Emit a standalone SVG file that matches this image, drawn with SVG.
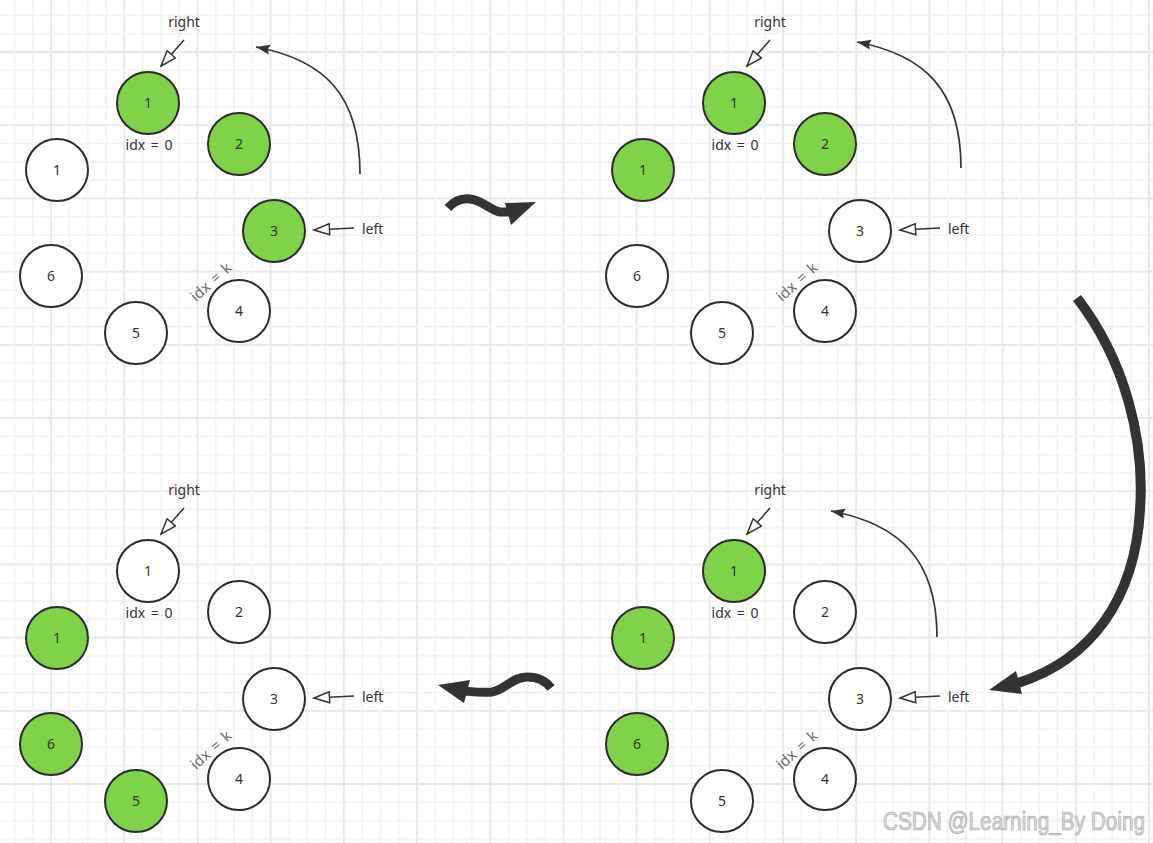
<svg xmlns="http://www.w3.org/2000/svg" width="1153" height="843" viewBox="0 0 1153 843">
<style>
.n{stroke:#2b2b2b;stroke-width:2}
.g{fill:#7ed348}
.w{fill:#ffffff}
.t{font-family:"Noto Sans","Open Sans","Liberation Sans",sans-serif;font-size:14px;fill:#333333}
.c{text-anchor:middle}
.k{fill:#6f6f6f;word-spacing:2px;font-size:15px}
.ptr{fill:none;stroke:#333333;stroke-width:1.5}
.cur{fill:none;stroke:#333333;stroke-width:1.7}
.thick{fill:none;stroke:#333333}
.head{fill:#333333}
</style>
<defs>
<pattern id="grid" patternUnits="userSpaceOnUse" x="50" y="51" width="73.2" height="73.2">
<rect width="73.2" height="73.2" fill="#ffffff"/>
<rect x="0" y="0" width="2" height="73.2" fill="#e9e9e9"/>
<rect x="0" y="0" width="73.2" height="2" fill="#e9e9e9"/>
<rect x="18.6" y="0" width="1.4" height="73.2" fill="#f1f1f1"/>
<rect x="36.9" y="0" width="1.4" height="73.2" fill="#f1f1f1"/>
<rect x="55.2" y="0" width="1.4" height="73.2" fill="#f1f1f1"/>
<rect x="0" y="18.6" width="73.2" height="1.4" fill="#f1f1f1"/>
<rect x="0" y="36.9" width="73.2" height="1.4" fill="#f1f1f1"/>
<rect x="0" y="55.2" width="73.2" height="1.4" fill="#f1f1f1"/>
</pattern>
<marker id="hollow" markerUnits="userSpaceOnUse" markerWidth="18" markerHeight="13" refX="16.5" refY="6.5" orient="auto">
<path d="M1,1 L16.5,6.5 L1,12 Z" fill="#ffffff" stroke="#333333" stroke-width="1.5"/>
</marker>
<marker id="solid" markerUnits="userSpaceOnUse" markerWidth="15" markerHeight="11" refX="14" refY="5.5" orient="auto">
<path d="M0,0.5 L14,5.5 L0,10.5 L2,5.5 Z" fill="#333333"/>
</marker>
</defs>
<rect width="1153" height="843" fill="url(#grid)"/>

<g id="connectors">
<path class="ptr" d="M184,40 L161,66" marker-end="url(#hollow)"/>
<path class="ptr" d="M354,228 L314,230" marker-end="url(#hollow)"/>
<path class="cur" d="M360,174 C360,95 325,60 256,47" marker-end="url(#solid)"/>
<path class="ptr" d="M770,40 L747,66" marker-end="url(#hollow)"/>
<path class="ptr" d="M940,228 L900,230" marker-end="url(#hollow)"/>
<path class="cur" d="M961,168 C961,90 925,55 857,42" marker-end="url(#solid)"/>
<path class="ptr" d="M184,508 L161,534" marker-end="url(#hollow)"/>
<path class="ptr" d="M354,696 L314,698" marker-end="url(#hollow)"/>
<path class="ptr" d="M770,508 L747,534" marker-end="url(#hollow)"/>
<path class="ptr" d="M940,696 L900,698" marker-end="url(#hollow)"/>
<path class="cur" d="M937,637 C937,560 900,524 831,511" marker-end="url(#solid)"/>
<path class="thick" stroke-width="9" d="M448,208 C455,200 462,198 470,199 C482,200 490,210 500,212 L512,212"/>
<polygon class="head" points="505,203 536,202 511,225"/>
<path class="thick" stroke-width="10" d="M1077,298 C1125,360 1145,440 1140,510 C1135,600 1090,660 1018,683"/>
<polygon class="head" points="989,690 1016,671 1022,694"/>
<path class="thick" stroke-width="9" d="M551,688 C545,680 537,677 527,677 C512,677 505,690 492,692 C482,693 475,692 465,691"/>
<polygon class="head" points="438,685 470,680 464,703"/>
</g>

<g id="labels" class="t">
<text class="t c" x="184" y="27">right</text>
<text class="t c" x="149" y="150" style="word-spacing:2px">idx = 0</text>
<text class="t" x="362" y="234">left</text>
<text class="t c k" x="211" y="287" transform="rotate(-42 211 282)">idx = k</text>
<text class="t c" x="770" y="27">right</text>
<text class="t c" x="735" y="150" style="word-spacing:2px">idx = 0</text>
<text class="t" x="948" y="234">left</text>
<text class="t c k" x="797" y="287" transform="rotate(-42 797 282)">idx = k</text>
<text class="t c" x="184" y="495">right</text>
<text class="t c" x="149" y="618" style="word-spacing:2px">idx = 0</text>
<text class="t" x="362" y="702">left</text>
<text class="t c k" x="211" y="755" transform="rotate(-42 211 750)">idx = k</text>
<text class="t c" x="770" y="495">right</text>
<text class="t c" x="735" y="618" style="word-spacing:2px">idx = 0</text>
<text class="t" x="948" y="702">left</text>
<text class="t c k" x="797" y="755" transform="rotate(-42 797 750)">idx = k</text>
</g>

<g id="tl-top1"><circle class="n g" cx="148" cy="103" r="31"/><text class="t c" x="148" y="108">1</text></g>
<g id="tl-2"><circle class="n g" cx="239" cy="144" r="31"/><text class="t c" x="239" y="149">2</text></g>
<g id="tl-left1"><circle class="n w" cx="57" cy="170" r="31"/><text class="t c" x="57" y="175">1</text></g>
<g id="tl-3"><circle class="n g" cx="274" cy="231" r="31"/><text class="t c" x="274" y="236">3</text></g>
<g id="tl-6"><circle class="n w" cx="51" cy="276" r="31"/><text class="t c" x="51" y="281">6</text></g>
<g id="tl-5"><circle class="n w" cx="136" cy="333" r="31"/><text class="t c" x="136" y="338">5</text></g>
<g id="tl-4"><circle class="n w" cx="239" cy="311" r="31"/><text class="t c" x="239" y="316">4</text></g>

<g id="tr-top1"><circle class="n g" cx="734" cy="103" r="31"/><text class="t c" x="734" y="108">1</text></g>
<g id="tr-2"><circle class="n g" cx="825" cy="144" r="31"/><text class="t c" x="825" y="149">2</text></g>
<g id="tr-left1"><circle class="n g" cx="643" cy="170" r="31"/><text class="t c" x="643" y="175">1</text></g>
<g id="tr-3"><circle class="n w" cx="860" cy="231" r="31"/><text class="t c" x="860" y="236">3</text></g>
<g id="tr-6"><circle class="n w" cx="637" cy="276" r="31"/><text class="t c" x="637" y="281">6</text></g>
<g id="tr-5"><circle class="n w" cx="722" cy="333" r="31"/><text class="t c" x="722" y="338">5</text></g>
<g id="tr-4"><circle class="n w" cx="825" cy="311" r="31"/><text class="t c" x="825" y="316">4</text></g>

<g id="bl-top1"><circle class="n w" cx="148" cy="571" r="31"/><text class="t c" x="148" y="576">1</text></g>
<g id="bl-2"><circle class="n w" cx="239" cy="612" r="31"/><text class="t c" x="239" y="617">2</text></g>
<g id="bl-left1"><circle class="n g" cx="57" cy="638" r="31"/><text class="t c" x="57" y="643">1</text></g>
<g id="bl-3"><circle class="n w" cx="274" cy="699" r="31"/><text class="t c" x="274" y="704">3</text></g>
<g id="bl-6"><circle class="n g" cx="51" cy="744" r="31"/><text class="t c" x="51" y="749">6</text></g>
<g id="bl-5"><circle class="n g" cx="136" cy="801" r="31"/><text class="t c" x="136" y="806">5</text></g>
<g id="bl-4"><circle class="n w" cx="239" cy="779" r="31"/><text class="t c" x="239" y="784">4</text></g>

<g id="br-top1"><circle class="n g" cx="734" cy="571" r="31"/><text class="t c" x="734" y="576">1</text></g>
<g id="br-2"><circle class="n w" cx="825" cy="612" r="31"/><text class="t c" x="825" y="617">2</text></g>
<g id="br-left1"><circle class="n g" cx="643" cy="638" r="31"/><text class="t c" x="643" y="643">1</text></g>
<g id="br-3"><circle class="n w" cx="860" cy="699" r="31"/><text class="t c" x="860" y="704">3</text></g>
<g id="br-6"><circle class="n g" cx="637" cy="744" r="31"/><text class="t c" x="637" y="749">6</text></g>
<g id="br-5"><circle class="n w" cx="722" cy="801" r="31"/><text class="t c" x="722" y="806">5</text></g>
<g id="br-4"><circle class="n w" cx="825" cy="779" r="31"/><text class="t c" x="825" y="784">4</text></g>

<text x="883" y="830" font-family="'Liberation Sans',Arial,sans-serif" font-size="26" textLength="262" lengthAdjust="spacingAndGlyphs" fill="#dadada" stroke="#a9a9a9" stroke-width="0.7">CSDN @Learning_By Doing</text>
</svg>
